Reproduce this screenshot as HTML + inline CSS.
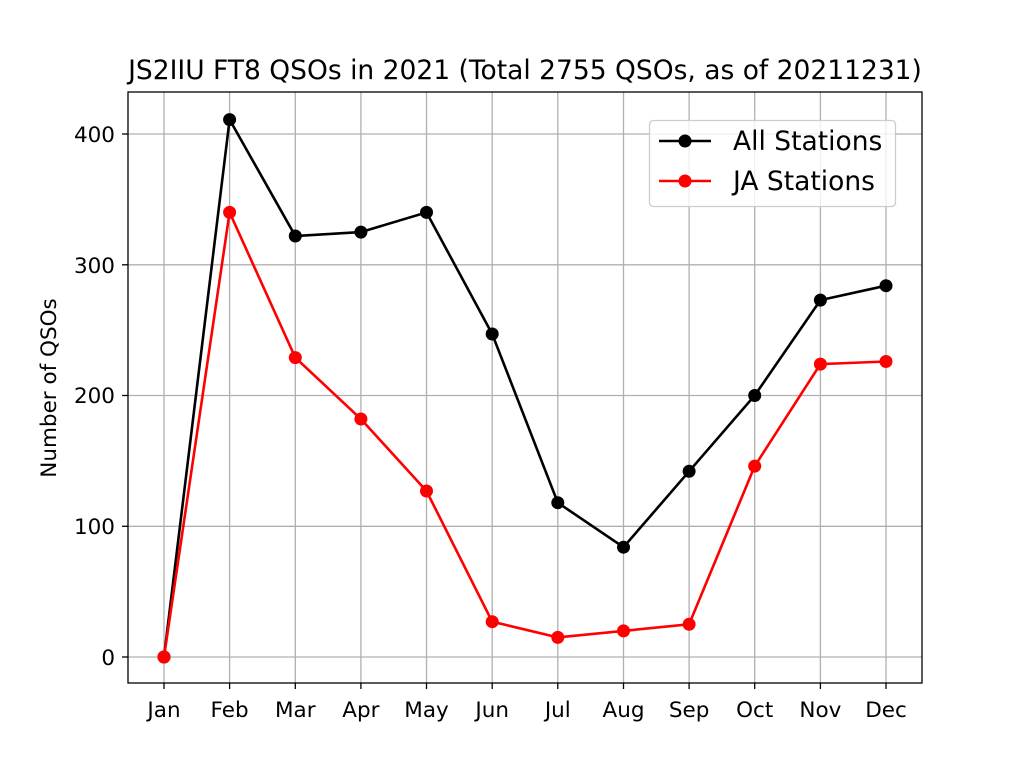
<!DOCTYPE html>
<html><head><meta charset="utf-8"><style>body{margin:0;background:#fff}</style></head><body>
<svg width="1024" height="768" xmlns="http://www.w3.org/2000/svg" font-family="DejaVu Sans, Liberation Sans, sans-serif">
<rect width="1024" height="768" fill="#fff"/>
<g stroke="#b0b0b0" stroke-width="1.3">
<line x1="164" y1="92" x2="164" y2="683"/><line x1="229.6" y1="92" x2="229.6" y2="683"/><line x1="295.3" y1="92" x2="295.3" y2="683"/><line x1="360.9" y1="92" x2="360.9" y2="683"/><line x1="426.5" y1="92" x2="426.5" y2="683"/><line x1="492.2" y1="92" x2="492.2" y2="683"/><line x1="557.8" y1="92" x2="557.8" y2="683"/><line x1="623.5" y1="92" x2="623.5" y2="683"/><line x1="689.1" y1="92" x2="689.1" y2="683"/><line x1="754.7" y1="92" x2="754.7" y2="683"/><line x1="820.4" y1="92" x2="820.4" y2="683"/><line x1="886" y1="92" x2="886" y2="683"/>
<line x1="128" y1="657" x2="922" y2="657"/><line x1="128" y1="526.3" x2="922" y2="526.3"/><line x1="128" y1="395.5" x2="922" y2="395.5"/><line x1="128" y1="264.8" x2="922" y2="264.8"/><line x1="128" y1="134" x2="922" y2="134"/>
</g>
<rect x="128" y="92" width="794" height="591" fill="none" stroke="#000" stroke-width="1.3"/>
<g stroke="#000" stroke-width="1.3">
<line x1="164" y1="683" x2="164" y2="689"/><line x1="229.6" y1="683" x2="229.6" y2="689"/><line x1="295.3" y1="683" x2="295.3" y2="689"/><line x1="360.9" y1="683" x2="360.9" y2="689"/><line x1="426.5" y1="683" x2="426.5" y2="689"/><line x1="492.2" y1="683" x2="492.2" y2="689"/><line x1="557.8" y1="683" x2="557.8" y2="689"/><line x1="623.5" y1="683" x2="623.5" y2="689"/><line x1="689.1" y1="683" x2="689.1" y2="689"/><line x1="754.7" y1="683" x2="754.7" y2="689"/><line x1="820.4" y1="683" x2="820.4" y2="689"/><line x1="886" y1="683" x2="886" y2="689"/>
<line x1="122" y1="657" x2="128" y2="657"/><line x1="122" y1="526.3" x2="128" y2="526.3"/><line x1="122" y1="395.5" x2="128" y2="395.5"/><line x1="122" y1="264.8" x2="128" y2="264.8"/><line x1="122" y1="134" x2="128" y2="134"/>
</g>
<g font-size="21.5" text-anchor="middle">
<text x="164" y="717">Jan</text><text x="229.6" y="717">Feb</text><text x="295.3" y="717">Mar</text><text x="360.9" y="717">Apr</text><text x="426.5" y="717">May</text><text x="492.2" y="717">Jun</text><text x="557.8" y="717">Jul</text><text x="623.5" y="717">Aug</text><text x="689.1" y="717">Sep</text><text x="754.7" y="717">Oct</text><text x="820.4" y="717">Nov</text><text x="886" y="717">Dec</text>
</g>
<g font-size="21.5" text-anchor="end">
<text x="115" y="665">0</text><text x="115" y="534">100</text><text x="115" y="403">200</text><text x="115" y="273">300</text><text x="115" y="142">400</text>
</g>
<text x="56" y="388" font-size="21.5" text-anchor="middle" transform="rotate(-90 56 388)">Number of QSOs</text>
<text x="525" y="79" font-size="26.5" text-anchor="middle">JS2IIU FT8 QSOs in 2021 (Total 2755 QSOs, as of 20211231)</text>
<polyline fill="none" stroke="#000" stroke-width="2.6" points="164,657 229.6,119.6 295.3,236 360.9,232.1 426.5,212.4 492.2,334 557.8,502.7 623.5,547.2 689.1,471.3 754.7,395.5 820.4,300.1 886,285.7"/>
<g fill="#000"><circle cx="164" cy="657" r="6.5"/><circle cx="229.6" cy="119.6" r="6.5"/><circle cx="295.3" cy="236" r="6.5"/><circle cx="360.9" cy="232.1" r="6.5"/><circle cx="426.5" cy="212.4" r="6.5"/><circle cx="492.2" cy="334" r="6.5"/><circle cx="557.8" cy="502.7" r="6.5"/><circle cx="623.5" cy="547.2" r="6.5"/><circle cx="689.1" cy="471.3" r="6.5"/><circle cx="754.7" cy="395.5" r="6.5"/><circle cx="820.4" cy="300.1" r="6.5"/><circle cx="886" cy="285.7" r="6.5"/></g>
<polyline fill="none" stroke="#f00" stroke-width="2.6" points="164,657 229.6,212.4 295.3,357.6 360.9,419 426.5,491 492.2,621.7 557.8,637.4 623.5,630.9 689.1,624.3 754.7,466.1 820.4,364.1 886,361.5"/>
<g fill="#f00"><circle cx="164" cy="657" r="6.5"/><circle cx="229.6" cy="212.4" r="6.5"/><circle cx="295.3" cy="357.6" r="6.5"/><circle cx="360.9" cy="419" r="6.5"/><circle cx="426.5" cy="491" r="6.5"/><circle cx="492.2" cy="621.7" r="6.5"/><circle cx="557.8" cy="637.4" r="6.5"/><circle cx="623.5" cy="630.9" r="6.5"/><circle cx="689.1" cy="624.3" r="6.5"/><circle cx="754.7" cy="466.1" r="6.5"/><circle cx="820.4" cy="364.1" r="6.5"/><circle cx="886" cy="361.5" r="6.5"/></g>
<rect x="649.5" y="120.5" width="246" height="86" rx="4" fill="#fff" fill-opacity="0.8" stroke="#ccc" stroke-width="1.3"/>
<line x1="659" y1="141" x2="711" y2="141" stroke="#000" stroke-width="2.6"/><circle cx="685" cy="141" r="6.5" fill="#000"/>
<line x1="659" y1="181" x2="711" y2="181" stroke="#f00" stroke-width="2.6"/><circle cx="685" cy="181" r="6.5" fill="#f00"/>
<text x="733" y="150" font-size="26.5">All Stations</text>
<text x="733" y="190" font-size="26.5">JA Stations</text>
</svg>
</body></html>
